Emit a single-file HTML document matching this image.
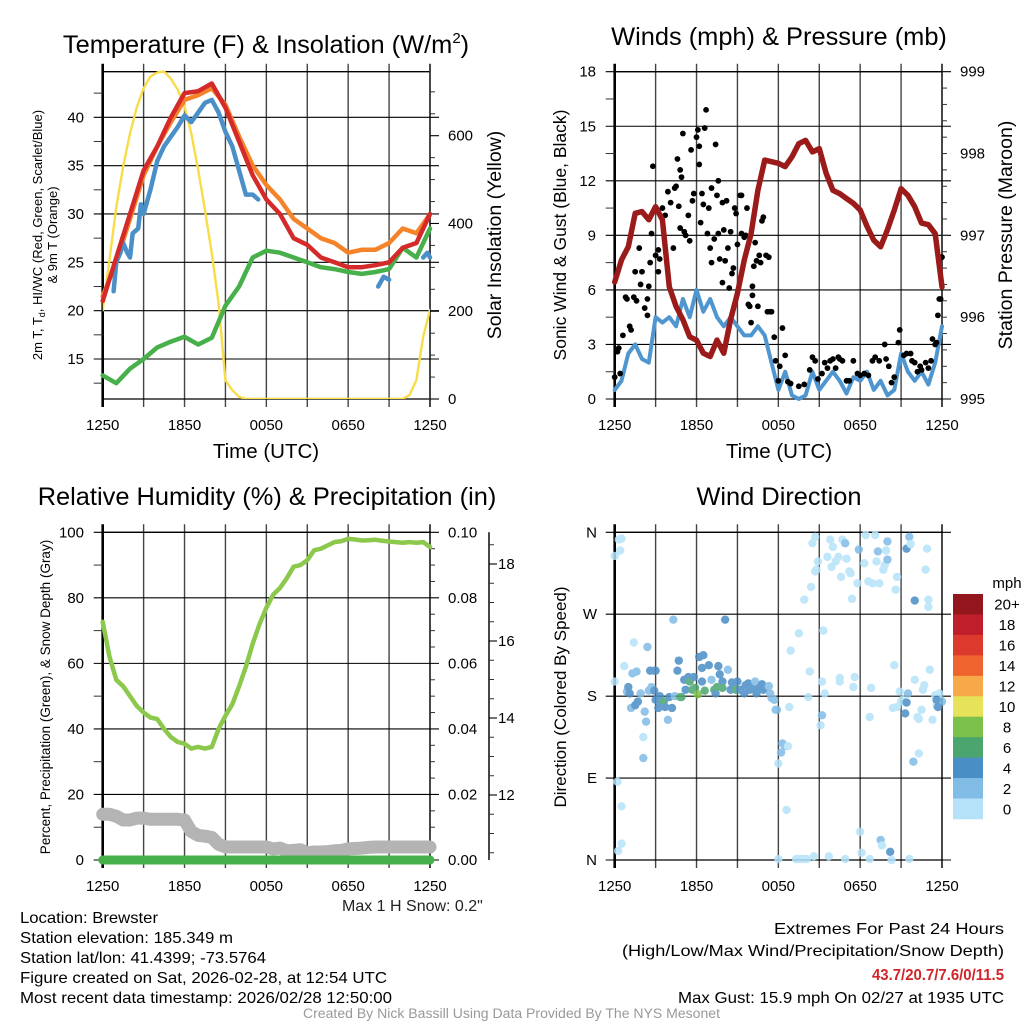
<!DOCTYPE html>
<html><head><meta charset="utf-8"><style>
html,body{margin:0;padding:0;background:#fff;}
svg{display:block;font-family:"Liberation Sans",sans-serif;}
</style></head><body>
<svg id="fig" width="1024" height="1024" viewBox="0 0 1024 1024" xmlns="http://www.w3.org/2000/svg">
<rect width="1024" height="1024" fill="#fff"/>
<text x="266" y="53" font-size="25.4" text-anchor="middle">Temperature (F) &amp; Insolation (W/m<tspan font-size="15" dy="-10">2</tspan><tspan dy="10">)</tspan></text>
<text x="779" y="45" font-size="25.4" text-anchor="middle">Winds (mph) &amp; Pressure (mb)</text>
<text x="267" y="505" font-size="25.4" text-anchor="middle">Relative Humidity (%) &amp; Precipitation (in)</text>
<text x="779" y="505" font-size="25.4" text-anchor="middle">Wind Direction</text>

<text font-size="13" text-anchor="middle" transform="translate(42,235) rotate(-90)">2m T, T<tspan font-size="9" dy="3">d</tspan><tspan dy="-3">, HI/WC (Red, Green, Scarlet/Blue)</tspan></text>
<text font-size="13" text-anchor="middle" transform="translate(57,235) rotate(-90)">&amp; 9m T (Orange)</text>
<text font-size="19.5" text-anchor="middle" transform="translate(501,235) rotate(-90)">Solar Insolation (Yellow)</text>
<text x="266" y="458" font-size="20.5" text-anchor="middle">Time (UTC)</text>
<text font-size="17.5" text-anchor="middle" transform="translate(566,235) rotate(-90)">Sonic Wind &amp; Gust (Blue, Black)</text>
<text font-size="19.5" text-anchor="middle" transform="translate(1012,235) rotate(-90)">Station Pressure (Maroon)</text>
<text x="779" y="458" font-size="20.5" text-anchor="middle">Time (UTC)</text>
<text font-size="13.5" text-anchor="middle" transform="translate(50,697) rotate(-90)">Percent, Precipitation (Green), &amp; Snow Depth (Gray)</text>
<text font-size="17" text-anchor="middle" transform="translate(566,697) rotate(-90)">Direction (Colored By Speed)</text>
<text x="342" y="911" font-size="16" fill="#222">Max 1 H Snow: 0.2"</text>

<g font-size="16" fill="#000">
<text x="20" y="923" textLength="138" lengthAdjust="spacingAndGlyphs">Location: Brewster</text>
<text x="20" y="943" textLength="213" lengthAdjust="spacingAndGlyphs">Station elevation: 185.349 m</text>
<text x="20" y="963" textLength="246" lengthAdjust="spacingAndGlyphs">Station lat/lon: 41.4399; -73.5764</text>
<text x="20" y="983" textLength="367" lengthAdjust="spacingAndGlyphs">Figure created on Sat, 2026-02-28, at 12:54 UTC</text>
<text x="20" y="1003" textLength="372" lengthAdjust="spacingAndGlyphs">Most recent data timestamp: 2026/02/28 12:50:00</text>
</g>
<g font-size="16">
<text x="774" y="934" textLength="230" lengthAdjust="spacingAndGlyphs">Extremes For Past 24 Hours</text>
<text x="622" y="956" textLength="382" lengthAdjust="spacingAndGlyphs">(High/Low/Max Wind/Precipitation/Snow Depth)</text>
<text x="872" y="980" fill="#d0252a" font-weight="bold" textLength="132" lengthAdjust="spacingAndGlyphs">43.7/20.7/7.6/0/11.5</text>
<text x="678" y="1003" textLength="326" lengthAdjust="spacingAndGlyphs">Max Gust: 15.9 mph On 02/27 at 1935 UTC</text>
</g>
<text x="303" y="1018" font-size="13.5" textLength="417" lengthAdjust="spacingAndGlyphs" fill="#999">Created By Nick Bassill Using Data Provided By The NYS Mesonet</text>
</svg>
<script>
const timeTickLabels = ["1250","1850","0050","0650","1250"];
const halfHours = [0,0.5,1,1.5,2,2.5,3,3.5,4,4.5,5,5.5,6,6.5,7,7.5,8,8.5,9,9.5,10,10.5,11,11.5,12,12.5,13,13.5,14,14.5,15,15.5,16,16.5,17,17.5,18,18.5,19,19.5,20,20.5,21,21.5,22,22.5,23,23.5,24];
const hours = [0,1,2,3,4,5,6,7,8,9,10,11,12,13,14,15,16,17,18,19,20,21,22,23,24];
const temp2m = [21,25.5,30,34.5,37,40,42.5,42.7,43.5,41,37.5,34,31.5,30,27.5,26.8,25.5,25,24.5,24.5,24.7,25,26.5,27,30];
const temp9m = [21.5,25,29.5,34,37,39.5,41.8,42.3,43,41.3,38,35,33,31.5,29.5,28.5,27.5,27,26,26.3,26.3,27,28.5,28,30];
const dewpoint = [13.3,12.5,14,15,16.2,16.8,17.3,16.5,17.2,20.5,22.5,25.5,26.2,26,25.5,25,24.5,24.3,24,23.8,24,24.3,26.5,25.5,28.5];
const windChillTimesA = [0.8,1,1.3,1.5,1.8,2,2.2,2.6,2.8,3,3.5,4,4.5,5,5.5,6,6.5,7,7.5,8,8.5,9,9.5,10,10.5,11,11.4];
const windChillA = [22,25,26,27,26,25.5,28,28.5,31,30,32.5,35.5,37,38,39,40.2,39.5,40.5,41.5,41.8,40.5,38.5,37,34.5,32,32,31.5];
const windChillTimesB = [20.2,20.4,20.6,21];
const windChillB = [22.5,23,23.5,23.2];
const windChillTimesC = [23.5,23.8,24];
const windChillC = [25.5,26,25.5];
const solar = [202,317,438,530,605,665,708,735,744,746,730,705,666,605,522,430,332,218,43,20,5,0,0,0,0,0,0,0,0,0,0,0,0,0,0,0,0,0,0,0,0,0,0,0,0,9,43,142,203];
const tempTicks = [15,20,25,30,35,40];
const solarTicks = [0,200,400,600];

const pressure = [996.43,996.70,996.86,997.27,997.29,997.19,997.35,997.19,996.37,996.13,995.97,995.76,995.72,995.56,995.52,995.72,995.56,995.97,996.29,996.70,997.02,997.55,997.92,997.90,997.88,997.84,997.96,998.12,998.16,998.02,998.06,997.76,997.55,997.51,997.45,997.39,997.31,997.11,996.94,996.86,997.07,997.31,997.57,997.49,997.35,997.15,997.13,997.02,996.37];
const windSpeed = [0.5,1,2.5,3,2.2,2,4.5,4.2,4.5,4,5.5,4.5,6,4.8,5.5,4.5,4,4.5,4,3.5,3.5,4,3.5,2,0.5,1.5,0.2,0,0.2,1.5,0.5,1,1.5,1,0.3,1.2,1,1.5,0.5,1,0.2,0.5,2.5,1.5,1,1.5,0.8,2,4];
const gustTimes = [0,0.2,0.3,0.4,0.6,0.8,0.9,1.1,1.2,1.5,1.8,1.9,2,1.4,1.6,2.2,2.4,2.4,2.5,2.7,2.6,2.8,3,3.2,3.2,3.3,3.5,3.7,3.9,4.1,4.3,4.4,4.5,4.6,4.7,4.8,4.8,4.9,5,5.1,5.2,5.4,5.5,5.6,5.7,5.8,6,6.1,6.2,6.2,6.3,6.4,6.5,6.6,6.7,6.9,6.8,7,7.1,7.1,7.3,7.4,7.5,7.6,7.6,7.7,7.9,7.9,8,8.1,8.2,8.3,8.4,8.5,8.6,8.7,8.8,8.9,9,9.2,9.3,9.3,9.5,9.6,9.7,9.8,9.9,10,10.1,10.1,10.2,10.3,10.4,10.5,10.6,10.7,10.8,10.9,11.1,11.3,11.2,11.4,11.5,11.7,11.8,12,12.1,12.3,12.5,12.7,12.9,13.5,13.9,14.3,14.5,14.7,14.9,15.2,15.4,15.6,15.8,16,16.2,16.4,16.5,16.7,17,17.2,17.5,17.8,18,18.3,18.6,18.9,19.1,19.4,19.8,19.9,20.1,20.3,20.5,20.8,20.9,21.2,21.4,21.7,21.8,22,22.2,22.4,22.5,22.8,23,23.2,23.3,23.5,23.6,23.7,23.8,23.9,24];
const gustVals = [1.2,2.6,2.8,1.4,3.5,5.6,5.5,4,3.8,7,8.3,6.3,7,5.6,5.4,5,5.5,4.6,6.2,9.1,7.5,12.8,7.9,7,8.2,7.7,10.5,10.1,11.4,10.8,8.3,11.6,11.7,13.2,10.6,9.4,12.6,12.2,14.6,9.2,9,10.1,8.7,13.7,10.9,11.3,14.4,14.8,12.9,13.9,9.7,11.3,10.7,14.9,15.9,10.5,9.1,8.3,7.5,11.6,8.8,14,11.2,9.1,12,7.7,10.8,6.4,9.3,7.6,10.9,8.3,6.1,9.2,6.9,7.2,10.5,10.2,8.5,11.2,11.2,9.1,8.9,9,10.5,5.2,5.1,4.2,5.7,6.2,7.3,8.6,7.6,5.1,7.9,7.5,9.8,10,7.9,7.8,4.8,4.8,4.8,3.4,2.1,1,1.8,3.9,2.4,0.95,0.85,0.7,0.8,1.6,2.3,2.1,1.1,1.4,2,1.7,2.1,2.2,1.7,2.3,2.2,2.1,1,1,2.1,1.4,1.3,1.4,1.3,2.1,2.3,2.1,3,2.2,1.8,0.9,1.2,3.1,3.8,2.4,2.5,2.5,2.1,2,1.5,1.8,1.6,2,1.7,2.1,3.3,3,3.1,4.6,5.5,5.5,7.8];
const windTicks = [0,3,6,9,12,15,18];
const pressureTicks = [995,996,997,998,999];

const rh = [72.7,62,55,53,50,47,45,43.5,43,40,37.5,36,35.5,34,34.5,34,34.5,40,44,47.5,53,59,66,72,77,81,83,86,89.5,90,91.5,94.5,95,96,97,97.3,98,97.8,97.5,97.6,97.7,97.4,97.2,97,96.8,97,96.8,97,95.5];
const snowDepth = [11.5,11.5,11.45,11.35,11.35,11.4,11.4,11.37,11.37,11.37,11.37,11.37,11.35,11.05,10.95,10.93,10.9,10.72,10.65,10.65,10.65,10.65,10.65,10.65,10.65,10.6,10.62,10.55,10.56,10.58,10.5,10.52,10.52,10.53,10.55,10.56,10.6,10.61,10.62,10.64,10.65,10.65,10.65,10.65,10.65,10.65,10.65,10.65,10.65];
const precip = [0,0,0,0,0,0,0,0,0,0,0,0,0,0,0,0,0,0,0,0,0,0,0,0,0];
const rhTicks = [0,20,40,60,80,100];
const precipTickLabels = ["0.00","0.02","0.04","0.06","0.08","0.10"];
const snowTicks = [12,14,16,18];

const dirTimes = [0,0.3,0.5,0.4,0,0.2,0.5,0.5,0.25,0.7,0.9,1,1.1,1.2,1.4,1.3,1.6,1.7,1.5,1.9,2.1,2.1,2.2,2.3,2.4,2.5,2.6,2.7,2.9,2.9,3,3,3.2,3.3,3.4,3.6,3.7,3.9,4,4.2,4.3,4.4,4.6,4.7,4.8,4.9,5.1,5.2,5.3,5.4,5.5,5.7,5.8,5.9,6.1,6.2,6.4,6.5,6.4,6.6,6.9,7.1,7.3,7.4,7.5,7.6,7.7,7.9,7.9,8.1,8.3,8.5,8.6,8.7,8.9,9,9.2,9.5,9.6,9.8,9.9,10.1,10.3,10.4,10.6,10.8,10.9,11.1,11.3,11.4,11.5,11.7,11.8,11.9,12,12.2,12.3,12.5,12.7,12.9,12.6,12.8,12,13.3,13.5,13.7,13.9,14.1,13.5,13.9,14.2,14.3,14.4,14.5,14.7,14.7,14.9,14.8,14.6,15.2,15.1,15.2,15.3,15.4,15.6,15.7,15.8,15.9,16,16.2,16.4,16.5,16.5,16.6,16.7,16.9,16.9,17,17.2,17.3,17.4,17.5,17.6,17.8,17.9,18,18.1,18.3,18.4,18.6,18.7,18.7,18.8,18.9,19.1,19.2,19.3,19.4,19.5,19.6,19.7,19.8,19.9,20,20,20.2,20.3,20.4,20.5,20.6,20.7,20.7,20.9,21,21.1,21.3,21.4,21.5,21.4,21.6,21.7,21.6,21.9,22,22,22.3,22.2,22.3,22.5,22.6,22.7,22.8,22.9,23,23,23.1,23.3,23.5,23.6,23.8,23.9,24,23.7,23.6];
const dirVals = [334,352,353,340,196,86,59,18,10,213,185,190,183,167,239,205,207,174,170,183,135,112,163,152,234,186,208,190,208,186,208,176,167,180,173,174,168,154,179,167,264,180,208,219,179,179,198,187,198,201,196,187,201,189,182,223,211,225,196,186,214,198,187,183,190,213,204,196,189,264,209,187,195,194,187,196,187,183,192,194,187,190,196,183,189,193,187,189,191,183,178,176,165,165,106,118,128,125,125,230,55,168,1,1,1,1,1,1,249,286,179,207,300,348,355,317,328,319,4,159,148,196,252,183,333,4,352,322,344,328,333,200,196,311,352,348,1,331,317,315,287,190,201,304,341,31,8,326,357,306,1,157,189,304,357,328,339,304,22,16,319,324,340,330,350,9,0,167,214,297,311,168,185,174,176,161,173,183,342,355,347,1,108,285,198,117,157,155,165,187,192,319,342,286,278,209,154,181,170,183,176,174,168,176];
const dirSpeeds = [1,1,1,1,1,1,1,1,1,1,3,5,5,3,1,2.5,3,5,5,3,1,3,3,3,3,3,5,3,5,5,5,5,5,5,5,7,5,3,5,5,2.5,3,5,5,7,7,5,5,5,5,7,7,5,7,9,5,5,5,5,7,5,3,7,5,7,5,5,5,7,5,3,5,5,5,7,5,5,5,5,5,5,5,3,5,5,5,5,5,3,3,2.5,2.5,2.5,2.5,1,3,2.5,2.5,1,1,1,1,1,1,1,1,1,1,1,1,1,1,1,1,1,1,1,1,1,3,1,1,1,1,1,1,1,1,1,1,1,1,1,1,1,3,1,1,1,1,1,1,1,1,3,1,1,1,1,1,1,1,1,1,1,1,3,1,3,1,1,1,1,3,3,5,1,1,1,1,1,1,1,1,1,5,5,3,5,3,1,1,3,5,1,1,1,1,1,1,1,1,1,1,1,1,1,1,1,1,1,3,5,5,3,2.5];
const dirTickLabels = ["N","E","S","W","N"];
const speedBins = ["0","2","4","6","8","10","12","14","16","18","20+"];
const speedColors = ["#b5e2f8","#80bce6","#4a8ec6","#4aa56f","#7cc14a","#e6e25a","#f7a849","#ee632e","#dc3a2c","#bf1e2a","#92161b"];

const NS = "http://www.w3.org/2000/svg";
const svg = document.getElementById("fig");
function mk(tag, attrs, parent){ const e=document.createElementNS(NS,tag); for(const k in attrs) e.setAttribute(k,attrs[k]); (parent||svg).appendChild(e); return e; }
function lin(d0,d1,r0,r1){ return v => r0+(v-d0)/(d1-d0)*(r1-r0); }

const P = {
  temp:{x0:102.7,x1:430,y0:71.7,y1:399},
  wind:{x0:614.7,x1:942,y0:71.7,y1:399},
  rh:{x0:102.7,x1:430,y0:532.3,y1:860},
  dir:{x0:614.7,x1:942,y0:532.3,y1:860}
};

function frame(p, name){
  const g = mk("g",{});
  
  
  const xs = lin(0,24,p.x0,p.x1);
  for(let h=3; h<24; h+=3){
    const l = mk("line",{x1:xs(h),x2:xs(h),y1:p.y0-8,y2:p.y1+8,stroke:"#444","stroke-width":1.4},g);
    
    
  }
  const top = mk("line",{x1:p.x0,x2:p.x1,y1:p.y0,y2:p.y0,stroke:"#000","stroke-width":1.3},g);
  
  
  const bot = mk("line",{x1:p.x0,x2:p.x1,y1:p.y1,y2:p.y1,stroke:"#000","stroke-width":1.3},g);
  
  
  const la = mk("line",{x1:p.x0,x2:p.x0,y1:p.y0-8,y2:p.y1+8,stroke:"#000","stroke-width":2.6},g);
  
  
  const ra = mk("line",{x1:p.x1,x2:p.x1,y1:p.y0-8,y2:p.y1+8,stroke:"#333","stroke-width":1.8},g);
  
  
  timeTickLabels.forEach((lab,i)=>{
    const t = mk("text",{x:xs(i*6),y:p.y1+31,"font-size":15,"text-anchor":"middle"},g);
    
    
    t.textContent = lab;
  });
  return xs;
}
function hgrid(p, y, g){
  const l = mk("line",{x1:p.x0-9,x2:p.x1+9,y1:y,y2:y,stroke:"#000","stroke-width":1.1},g);
  
  
}
function minor(x, y, dx, g){
  const l = mk("line",{x1:x,x2:x+dx,y1:y,y2:y,stroke:"#333","stroke-width":1},g);
  
  
}
function label(x,y,txt,anchor,g,size){
  const t = mk("text",{x:x,y:y,"font-size":size||15,"text-anchor":anchor},g);
  
  
  t.textContent = txt;
  return t;
}
function pathFrom(ts, vs, xs, ys){
  let d=""; ts.forEach((t,i)=>{ d += (i?"L":"M")+xs(t).toFixed(1)+","+ys(vs[i]).toFixed(1); }); return d;
}
function line(ts, vs, xs, ys, color, w, name){
  const e = mk("path",{d:pathFrom(ts,vs,xs,ys),fill:"none",stroke:color,"stroke-width":w,"stroke-linejoin":"round","stroke-linecap":"round"});
  
  
  return e;
}

/* ---- Panel 1: temperature ---- */
(function(){
  const p=P.temp; const xs=frame(p,'temperature');
  const ys = lin(15,40,359,117.3);
  const ysol = lin(0,600,399,135.7);
  const g = mk("g",{});
  
  
  tempTicks.forEach(v=>{ hgrid(p,ys(v),g); label(84,ys(v)+5,String(v),"end",g); });
  for(let v=12.5; v<45; v+=5) minor(p.x0-9,ys(v),9,g);
  solarTicks.forEach(v=>{ label(448,ysol(v)+5,String(v),"start",g);
    const l=mk("line",{x1:p.x1,x2:p.x1+9,y1:ysol(v),y2:ysol(v),stroke:"#000","stroke-width":1.1},g);
      });
  for(let v=50; v<750; v+=50) if(v%200) minor(p.x1,ysol(v),5,g);
  const clip = mk("clipPath",{id:"c1"}); mk("rect",{x:p.x0,y:p.y0-4,width:p.x1-p.x0,height:p.y1-p.y0+4},clip);
  line(halfHours, solar, xs, ysol, "#f8dc48", 2.4, "solar-insolation-line").setAttribute("clip-path","url(#c1)");
  line(hours, dewpoint, xs, ys, "#47b04b", 4.5, "dewpoint-line");
  line(hours, temp9m, xs, ys, "#f5832a", 4.5, "temp-9m-line");
  line(windChillTimesA, windChillA, xs, ys, "#4a8fc8", 4.5, "windchill-line-a");
  line(windChillTimesB, windChillB, xs, ys, "#4a8fc8", 4.5, "windchill-line-b");
  line(windChillTimesC, windChillC, xs, ys, "#4a8fc8", 4.5, "windchill-line-c");
  line(hours, temp2m, xs, ys, "#d52a2a", 4.5, "temp-2m-line");
})();

/* ---- Panel 2: winds ---- */
(function(){
  const p=P.wind; const xs=frame(p,'winds');
  const ys = lin(0,18,399,71.7);
  const yp = lin(995,999,399,71.7);
  const g = mk("g",{});
  
  
  windTicks.forEach(v=>{ hgrid(p,ys(v),g); label(596,ys(v)+5,String(v),"end",g); });
  for(let v=1.5; v<18; v+=3) minor(p.x0-9,ys(v),9,g);
  pressureTicks.forEach(v=>{ label(960,yp(v)+5,String(v),"start",g); });
  for(let v=995.2; v<999; v+=0.2) minor(p.x1,yp(v),5,g);
  line(halfHours, windSpeed, xs, ys, "#4f96d0", 4, "sonic-wind-line");
  gustTimes.forEach((t,i)=>{
    const c = mk("circle",{cx:xs(t),cy:ys(gustVals[i]),r:2.9,fill:"#000"});
    
    
  });
  line(halfHours, pressure, xs, yp, "#9b1b1b", 5.5, "pressure-line");
})();

/* ---- Panel 3: RH ---- */
(function(){
  const p=P.rh; const xs=frame(p,'humidity');
  const ys = lin(0,100,860,532.3);
  const ysn = lin(10,18,872,564);
  const g = mk("g",{});
  
  
  rhTicks.forEach((v,i)=>{ hgrid(p,ys(v),g); label(84,ys(v)+5,String(v),"end",g); label(448,ys(v)+5,precipTickLabels[i],"start",g); });
  for(let v=10; v<100; v+=20) minor(p.x0-9,ys(v),9,g);
  for(let v=5; v<100; v+=5) if(v%20) minor(p.x1,ys(v),5,g);
  const fa = mk("line",{x1:489,x2:489,y1:532.3,y2:860,stroke:"#333","stroke-width":1.8},g);
   
  snowTicks.forEach(v=>{ label(498,ysn(v)+5,String(v),"start",g);
    const l=mk("line",{x1:489,x2:497,y1:ysn(v),y2:ysn(v),stroke:"#000","stroke-width":1.1},g);
      });
  for(let v=10.5; v<18.8; v+=0.5) if(v%2) minor(489,ysn(v),5,g);
  line(halfHours, snowDepth, xs, ysn, "#b4b4b4", 13, "snow-depth-line");
  line(hours, precip, xs, ys, "#46b14a", 9, "precipitation-line");
  line(halfHours, rh, xs, ys, "#8cc84b", 4.5, "relative-humidity-line");
})();

/* ---- Panel 4: wind direction ---- */
(function(){
  const p=P.dir; const xs=frame(p,'wind-direction');
  const yd = lin(0,360,860,532.3);
  const g = mk("g",{});
  
  
  dirTickLabels.forEach((lab,i)=>{ hgrid(p,yd(i*90),g); label(597,yd(i*90)+5,lab,"end",g); });
  const dots = mk("g",{opacity:0.85});
  
  
  dirTimes.forEach((t,i)=>{
    const bin = Math.min(10, Math.floor(dirSpeeds[i]/2));
    const c = mk("circle",{cx:xs(t),cy:yd(dirVals[i]),r:4.2,fill:speedColors[bin]},dots);
    
    
  });
  const cb = mk("g",{});
  
  
  const bh = (819-594)/11;
  speedBins.forEach((lab,i)=>{
    const k = 10-i; const y = 594+i*bh;
    const r = mk("rect",{x:953,y:y,width:30,height:bh+0.3,fill:speedColors[k]},cb);
    
    
    const t = mk("text",{x:1007,y:y+bh/2+5.5,"font-size":15,"text-anchor":"middle"},cb);
    
    
    t.textContent = speedBins[k];
  });
  const u = mk("text",{x:1007,y:588,"font-size":15,"text-anchor":"middle"},cb);
  
  
  u.textContent = "mph";
})();
</script>
</body></html>
